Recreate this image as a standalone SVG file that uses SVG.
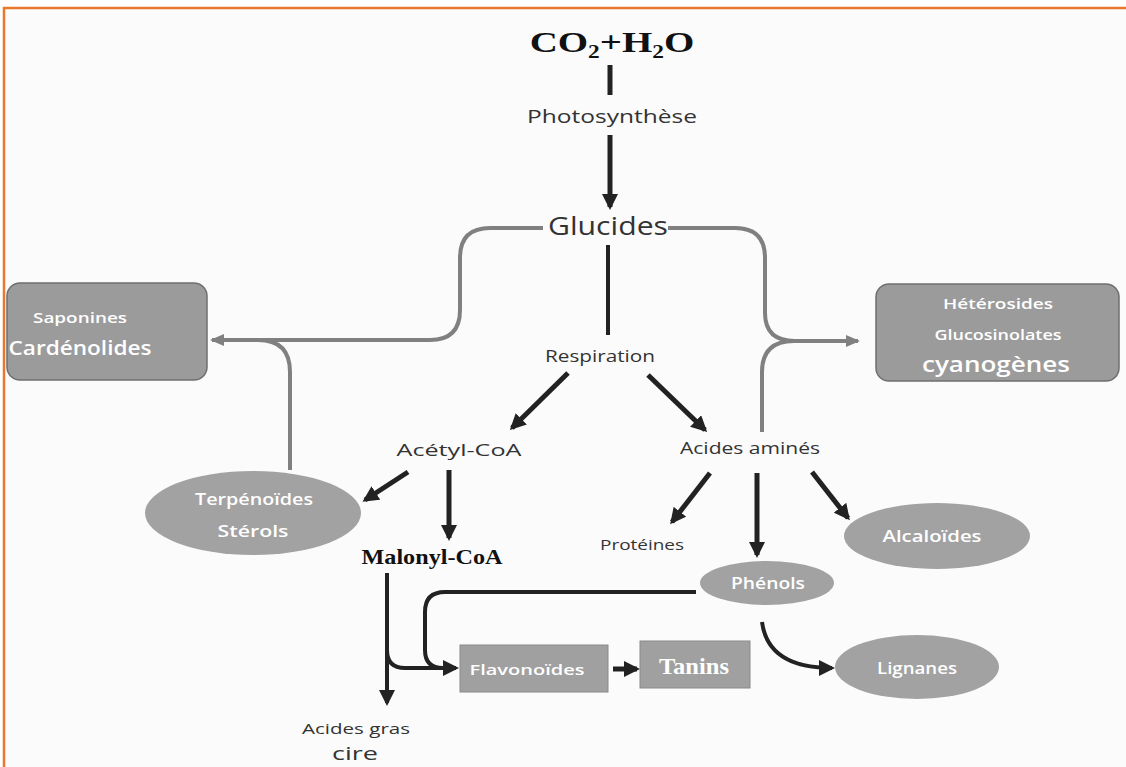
<svg xmlns="http://www.w3.org/2000/svg" width="1126" height="767" viewBox="0 0 1126 767">
<style>
.t{font-family:"Open Sans","Liberation Sans",sans-serif;fill:#333;text-anchor:middle}
.w{font-family:"Open Sans","Liberation Sans",sans-serif;fill:#fff;text-anchor:middle;font-weight:600}
.s{font-family:"Liberation Serif",serif;font-weight:bold;text-anchor:middle;fill:#111}
.box{fill:#9b9b9b;stroke:#6f6f6f;stroke-width:1.5}
.ell{fill:#a2a2a2}
.rect{fill:#a0a0a0;stroke:#8a8a8a;stroke-width:1}
.d{fill:none;stroke:#222;stroke-width:5}
.g{fill:none;stroke:#808080;stroke-width:4}
</style>
<defs>
<marker id="ad" viewBox="0 0 16 16" refX="13" refY="8" markerWidth="16" markerHeight="16" markerUnits="userSpaceOnUse" orient="auto">
<path d="M0,0 L16,8 L0,16 z" fill="#222"/>
</marker>
<marker id="ag" viewBox="0 0 14 12" refX="12" refY="6" markerWidth="14" markerHeight="12" markerUnits="userSpaceOnUse" orient="auto">
<path d="M0,0 L14,6 L0,12 z" fill="#808080"/>
</marker>
</defs>
<rect x="0" y="0" width="1126" height="767" fill="#ffffff"/>
<rect x="5" y="9" width="1121" height="758" fill="#fbfbfb"/>
<g id="border" stroke="#e8792a" stroke-width="2.5" fill="none">
<path d="M4,767 V8 H1126"/>
</g>
<g id="connectors">
<path class="g" d="M543,228 H490 Q460,228 460,258 V310 Q460,340 430,340 H212" marker-end="url(#ag)"/>
<path class="g" d="M290,470 V372 Q290,340 258,340"/>
<path class="g" d="M668,228 H735 Q765,228 765,258 V313 Q765,341 795,341 H858" marker-end="url(#ag)"/>
<path class="g" d="M762,432 V372 Q762,341 794,341"/>
<path class="d" d="M610,65 V95"/>
<path class="d" d="M610,135 V207" marker-end="url(#ad)"/>
<path class="d" d="M608,245 V335" style="stroke-width:4"/>
<path class="d" d="M568,373 L512,428" marker-end="url(#ad)"/>
<path class="d" d="M648,375 L705,430" marker-end="url(#ad)"/>
<path class="d" d="M408,472 L365,500" marker-end="url(#ad)"/>
<path class="d" d="M449,470 V538" marker-end="url(#ad)"/>
<path class="d" d="M710,473 L672,522" marker-end="url(#ad)"/>
<path class="d" d="M757,473 V555" marker-end="url(#ad)"/>
<path class="d" d="M812,472 L848,518" marker-end="url(#ad)"/>
<path class="d" d="M387,573 V703" style="stroke-width:4" marker-end="url(#ad)"/>
<path class="d" d="M387,650 Q387,668 405,668 H456" style="stroke-width:4" marker-end="url(#ad)"/>
<path class="d" d="M696,592 H445 Q425,592 425,612 V650 Q425,668 443,668" style="stroke-width:4"/>
<path class="d" d="M613,669 H637" marker-end="url(#ad)"/>
<path class="d" d="M762,622 Q768,668 832,668" style="stroke-width:4" marker-end="url(#ad)"/>
</g>
<g id="co2"><text class="s" transform="translate(612,52) scale(1.3,1)" x="0" y="0" font-size="30">CO<tspan font-size="18" dy="6">2</tspan><tspan dy="-6">+H</tspan><tspan font-size="18" dy="6">2</tspan><tspan dy="-6">O</tspan></text></g>
<g id="photosynthese"><text class="t" x="612" y="123" font-size="19" textLength="170" lengthAdjust="spacingAndGlyphs">Photosynthèse</text></g>
<g id="glucides"><text class="t" x="608" y="235" font-size="26" textLength="120" lengthAdjust="spacingAndGlyphs">Glucides</text></g>
<g id="respiration"><text class="t" x="600" y="362" font-size="16" textLength="110" lengthAdjust="spacingAndGlyphs">Respiration</text></g>
<g id="acetyl"><text class="t" x="459" y="456" font-size="17" textLength="125" lengthAdjust="spacingAndGlyphs">Acétyl-CoA</text></g>
<g id="acides-amines"><text class="t" x="750" y="454" font-size="16" textLength="140" lengthAdjust="spacingAndGlyphs">Acides aminés</text></g>
<g id="saponines">
<rect class="box" x="7" y="283" width="200" height="97" rx="13"/>
<text class="w" x="80" y="323" font-size="15" textLength="94" lengthAdjust="spacingAndGlyphs">Saponines</text>
<text class="w" x="80" y="355" font-size="20" font-weight="500" textLength="143" lengthAdjust="spacingAndGlyphs">Cardénolides</text>
</g>
<g id="heterosides">
<rect class="box" x="876" y="284" width="243" height="97" rx="13"/>
<text class="w" x="998" y="309" font-size="15" textLength="110" lengthAdjust="spacingAndGlyphs">Hétérosides</text>
<text class="w" x="998" y="340" font-size="14" textLength="127" lengthAdjust="spacingAndGlyphs">Glucosinolates</text>
<text class="w" x="996" y="372" font-size="22" font-weight="500" textLength="148" lengthAdjust="spacingAndGlyphs">cyanogènes</text>
</g>
<g id="terpenoides">
<ellipse class="ell" cx="253" cy="513" rx="108" ry="42"/>
<text class="w" x="254" y="505" font-size="16" textLength="118" lengthAdjust="spacingAndGlyphs">Terpénoïdes</text>
<text class="w" x="253" y="537" font-size="16" textLength="71" lengthAdjust="spacingAndGlyphs">Stérols</text>
</g>
<g id="malonyl"><text class="s" x="432" y="564" font-size="22" textLength="141" lengthAdjust="spacingAndGlyphs">Malonyl-CoA</text></g>
<g id="proteines"><text class="t" x="642" y="550" font-size="14" textLength="84" lengthAdjust="spacingAndGlyphs">Protéines</text></g>
<g id="alcaloides">
<ellipse class="ell" cx="937" cy="536" rx="93" ry="33"/>
<text class="w" x="932" y="542" font-size="16" textLength="99" lengthAdjust="spacingAndGlyphs">Alcaloïdes</text>
</g>
<g id="phenols">
<ellipse class="ell" cx="767" cy="583" rx="67" ry="22"/>
<text class="w" x="768" y="589" font-size="17" textLength="74" lengthAdjust="spacingAndGlyphs">Phénols</text>
</g>
<g id="flavonoides">
<rect class="rect" x="460" y="645" width="148" height="47"/>
<text class="w" x="527" y="675" font-size="14" textLength="115" lengthAdjust="spacingAndGlyphs">Flavonoïdes</text>
</g>
<g id="tanins">
<rect class="rect" x="640" y="641" width="110" height="47"/>
<text class="s" x="694" y="674" font-size="24" textLength="70" lengthAdjust="spacingAndGlyphs" style="fill:#fff">Tanins</text>
</g>
<g id="lignanes">
<ellipse class="ell" cx="917" cy="667" rx="82" ry="32"/>
<text class="w" x="917" y="674" font-size="17" textLength="80" lengthAdjust="spacingAndGlyphs">Lignanes</text>
</g>
<g id="acides-gras">
<text class="t" x="356" y="734" font-size="14" textLength="108" lengthAdjust="spacingAndGlyphs">Acides gras</text>
<text class="t" x="355" y="760" font-size="18" textLength="46" lengthAdjust="spacingAndGlyphs">cire</text>
</g>
</svg>
